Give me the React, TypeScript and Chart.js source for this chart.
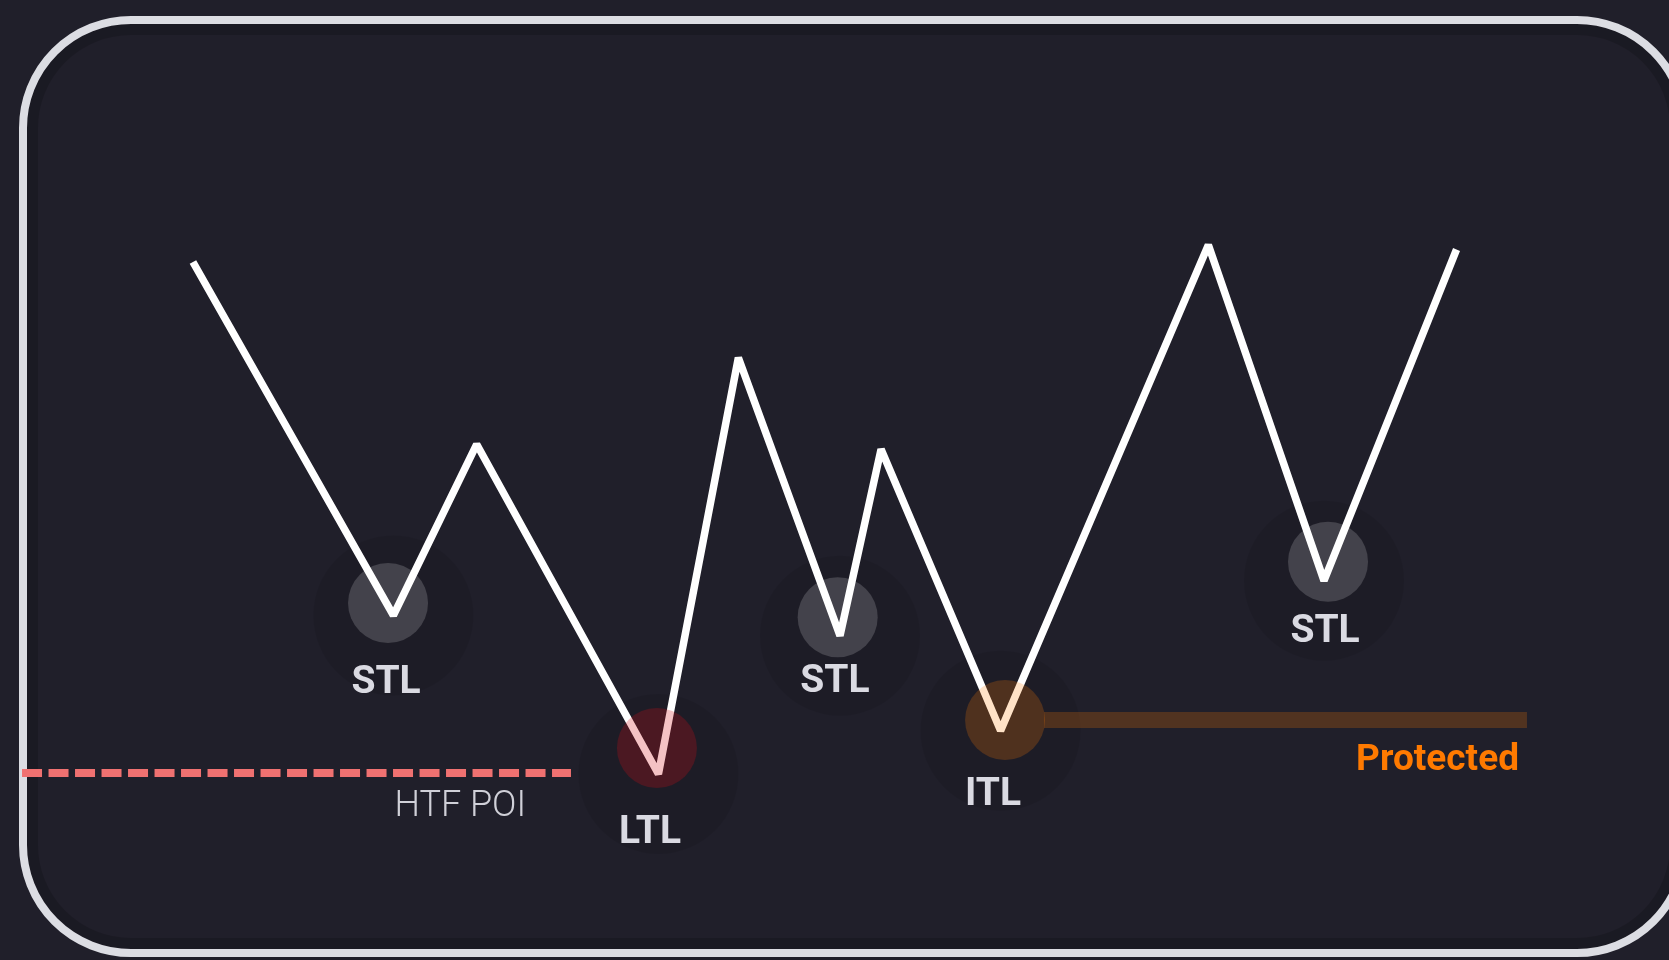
import React, { useEffect, useRef } from "react";
import { Chart, registerables } from "chart.js";

Chart.register(...registerables);

const W = 1669;
const H = 960;

// Swing path: time (0-100) and price (0-100)
const pathX = [11.56, 23.57, 28.56, 39.45, 44.24, 50.33, 52.79, 59.95, 72.4, 79.33, 87.27];
const pathY = [72.71, 35.89, 53.72, 19.38, 62.74, 33.78, 53.2, 23.89, 74.48, 39.51, 74.01];

// Swing lows that carry a halo (indexes into the path)
const lowIndex = [1, 3, 5, 7, 9];

// Markers at the lows
const markerNames = ["STL", "LTL", "STL", "ITL", "STL"];
const markerKind = ["short", "long", "short", "inter", "short"];
const markerX = [23.25, 39.36, 50.19, 60.22, 79.57];
const markerY = [37.19, 22.08, 35.7, 25.0, 41.49];
const labelX = [23.13, 38.95, 50.03, 59.5, 79.39];
const labelY = [27.81, 12.19, 27.95, 16.15, 33.16];

// HTF POI dashed level
const poiX = [1.32, 34.21];
const poiLevel = 19.48;
const poiText = "HTF POI";
const poiTextX = 31.52;
const poiTextY = 15.0;

// Protected level from the ITL
const protX = [62.55, 91.49];
const protLevel = 25.0;
const protText = "Protected";
const protTextX = 91.01;
const protTextY = 19.79;

const kindColor: Record<string, string> = {
  short: "rgba(255,255,255,0.17)",
  long: "rgba(212,10,20,0.25)",
  inter: "rgba(255,122,0,0.22)",
};

function roundRectPath(ctx: CanvasRenderingContext2D, x: number, y: number, w: number, h: number, r: number) {
  ctx.beginPath();
  ctx.moveTo(x + r, y);
  ctx.lineTo(x + w - r, y);
  ctx.arcTo(x + w, y, x + w, y + r, r);
  ctx.lineTo(x + w, y + h - r);
  ctx.arcTo(x + w, y + h, x + w - r, y + h, r);
  ctx.lineTo(x + r, y + h);
  ctx.arcTo(x, y + h, x, y + h - r, r);
  ctx.lineTo(x, y + r);
  ctx.arcTo(x, y, x + r, y, r);
  ctx.closePath();
}

const framePlugin = {
  id: "frame",
  beforeDatasetsDraw(chart: any) {
    const ctx: CanvasRenderingContext2D = chart.ctx;
    ctx.save();
    // inner shadow band
    roundRectPath(ctx, 31, 28, 1685 - 31 - 8, 953 - 28 - 8, 100);
    ctx.lineWidth = 14;
    ctx.strokeStyle = "rgba(0,0,0,0.16)";
    ctx.stroke();
    // outer light frame
    roundRectPath(ctx, 23, 20, 1685 - 23, 953 - 20, 108);
    ctx.lineWidth = 8;
    ctx.strokeStyle = "#dcdde3";
    ctx.stroke();
    ctx.restore();
  },
};

const labelPlugin = {
  id: "labels",
  afterDatasetsDraw(chart: any) {
    const ctx: CanvasRenderingContext2D = chart.ctx;
    const xs = chart.scales.x;
    const ys = chart.scales.y;
    ctx.save();
    ctx.textBaseline = "alphabetic";
    ctx.textAlign = "center";
    ctx.font = "bold 39px Roboto";
    ctx.fillStyle = "#dadae2";
    markerNames.forEach((name, i) => {
      ctx.fillText(name, xs.getPixelForValue(labelX[i]), ys.getPixelForValue(labelY[i]));
    });
    ctx.textAlign = "right";
    ctx.font = "300 36px Roboto";
    ctx.fillStyle = "#d0d0d8";
    ctx.fillText(poiText, xs.getPixelForValue(poiTextX), ys.getPixelForValue(poiTextY));
    ctx.font = "bold 37px Roboto";
    ctx.fillStyle = "#ff7a00";
    ctx.fillText(protText, xs.getPixelForValue(protTextX), ys.getPixelForValue(protTextY));
    ctx.restore();
  },
};

export default function App() {
  const ref = useRef<HTMLCanvasElement | null>(null);

  useEffect(() => {
    document.body.style.margin = "0";
    document.body.style.background = "#201f2a";
    if (!ref.current) return;
    const path = pathX.map((x, i) => ({ x, y: pathY[i] }));
    const halos = lowIndex.map((i) => ({ x: pathX[i], y: pathY[i] }));
    const markers = markerX.map((x, i) => ({ x, y: markerY[i] }));
    const chart = new Chart(ref.current, {
      type: "line",
      data: {
        datasets: [
          {
            label: "markers",
            data: markers,
            showLine: false,
            pointRadius: 40,
            pointHoverRadius: 40,
            pointBorderWidth: 0,
            pointBackgroundColor: markerKind.map((k) => kindColor[k]),
            order: 1,
          } as any,
          {
            label: "path",
            data: path,
            borderColor: "#ffffff",
            borderWidth: 7.5,
            pointRadius: 0,
            tension: 0,
            fill: false,
            borderJoinStyle: "bevel",
            borderCapStyle: "butt",
            order: 3,
          } as any,
          {
            label: "poi",
            data: poiX.map((x) => ({ x, y: poiLevel })),
            borderColor: "#f07171",
            borderWidth: 8,
            borderDash: [20, 6.5],
            borderCapStyle: "butt",
            pointRadius: 0,
            fill: false,
            order: 4,
          } as any,
          {
            label: "protected",
            data: protX.map((x) => ({ x, y: protLevel })),
            borderColor: "rgba(255,122,0,0.22)",
            borderWidth: 16,
            borderCapStyle: "butt",
            pointRadius: 0,
            fill: false,
            order: 4,
          } as any,
          {
            label: "halos",
            data: halos,
            showLine: false,
            pointRadius: 80,
            pointHoverRadius: 80,
            pointBorderWidth: 0,
            pointBackgroundColor: "rgba(0,0,0,0.08)",
            order: 5,
          } as any,
        ],
      },
      options: {
        animation: false,
        responsive: false,
        devicePixelRatio: 1,
        events: [],
        layout: { padding: 0, autoPadding: false },
        plugins: { legend: { display: false }, tooltip: { enabled: false } },
        scales: {
          x: { type: "linear", min: 0, max: 100, display: false },
          y: { type: "linear", min: 0, max: 100, display: false },
        },
      },
      plugins: [framePlugin, labelPlugin],
    });
    return () => chart.destroy();
  }, []);

  return (
    <div style={{ position: "fixed", left: 0, top: 0, width: W, height: H, background: "#201f2a" }}>
      <canvas ref={ref} width={W} height={H} style={{ display: "block" }} />
    </div>
  );
}
